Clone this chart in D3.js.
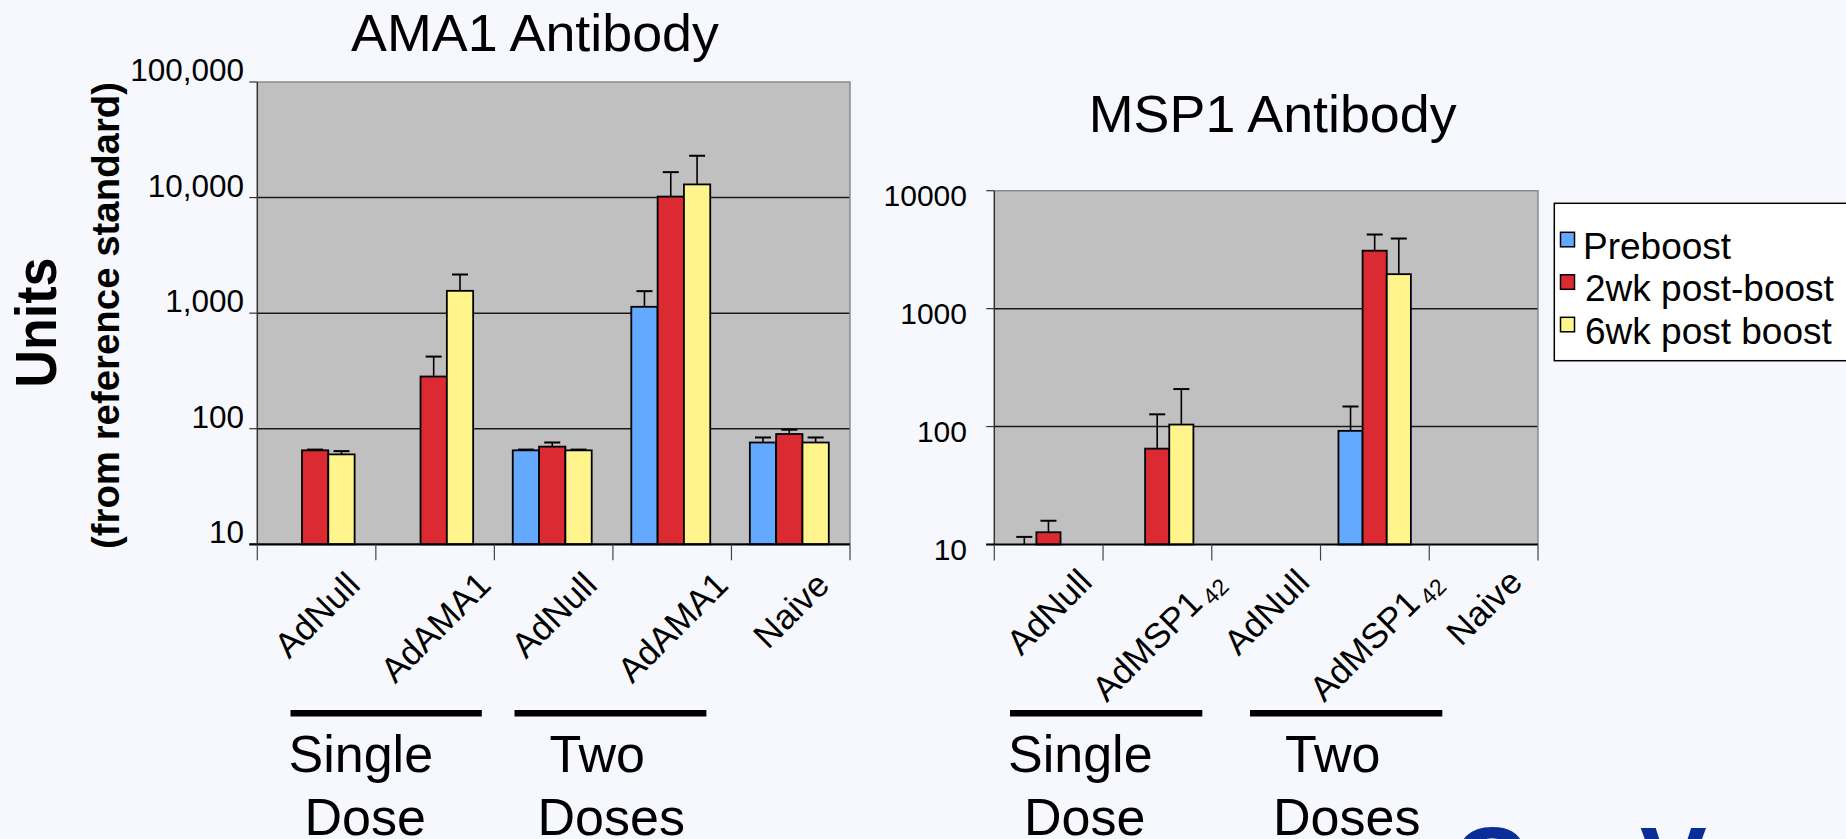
<!DOCTYPE html>
<html><head><meta charset="utf-8">
<script src="https://cdn.jsdelivr.net/npm/d3@7"></script>
<style>
html,body{margin:0;padding:0;background:#F6F8FD;}
svg{display:block;font-family:"Liberation Sans",Arial,sans-serif;}
</style></head>
<body>
<svg id="chart" width="1846" height="839"></svg>
<script>
// ---------- DATA ----------
const seriesNames = ["Preboost", "2wk post-boost", "6wk post boost"];
const seriesColors = ["#63A9FF", "#DC2A32", "#FFF58C"];

const amaCategories = ["AdNull", "AdAMA1", "AdNull", "AdAMA1", "Naive"];
const amaPreboost = [null, null, 65, 1135, 76];
const ama2wk      = [65, 283, 70, 10200, 90];
const ama6wk      = [60, 1560, 65, 13000, 76];
const amaPreboostErr = [null, null, 1, 415, 8];
const ama2wkErr      = [1, 138, 6, 6400, 8];
const ama6wkErr      = [4, 600, 1, 10000, 8];
const amaTicks = [10, 100, 1000, 10000, 100000];

const mspCategories = ["AdNull", "AdMSP1", "AdNull", "AdMSP1", "Naive"];
const mspSubscripts = ["", "42", "", "42", ""];
const mspPreboost = [10, null, null, 92, null];
const msp2wk      = [12.7, 65, null, 3100, null];
const msp6wk      = [null, 104, null, 1960, null];
const mspPreboostErr = [1.6, null, null, 56, null];
const msp2wkErr      = [3.2, 62, null, 1150, null];
const msp6wkErr      = [null, 104, null, 1970, null];
const mspTicks = [10, 100, 1000, 10000];

const groupLabels = [["Single", "Dose"], ["Two", "Doses"]];
// ---------------------------

const svg = d3.select("#chart");

function drawPanel(p) {
  const g = svg.append("g");
  const x = d3.scaleBand().domain(d3.range(p.categories.length)).range([p.x0, p.x1]);
  const y = d3.scaleLog().domain([p.ticks[0], p.ticks[p.ticks.length - 1]]).range([p.yb, p.yt]);
  const bw = x.bandwidth();
  const barW = bw * 0.222;
  const off = bw * p.barOffset;

  g.append("rect").attr("x", p.x0).attr("y", p.yt)
    .attr("width", p.x1 - p.x0).attr("height", p.yb - p.yt).attr("fill", "#C0C0C0");

  g.selectAll(".grid").data(p.ticks.slice(1, -1)).join("line")
    .attr("x1", p.x0).attr("x2", p.x1)
    .attr("y1", d => y(d)).attr("y2", d => y(d))
    .attr("stroke", "#1a1a1a").attr("stroke-width", 1.5);

  g.append("path")
    .attr("d", `M${p.x0},${p.yt}H${p.x1}V${p.yb}`)
    .attr("fill", "none").attr("stroke", "#8a8a8a").attr("stroke-width", 1.5);

  g.append("line").attr("x1", p.x0).attr("x2", p.x0).attr("y1", p.yt).attr("y2", p.yb)
    .attr("stroke", "#333").attr("stroke-width", 1.5);
  g.selectAll(".ytick").data(p.ticks).join("line")
    .attr("x1", p.x0 - 8).attr("x2", p.x0)
    .attr("y1", d => y(d)).attr("y2", d => y(d))
    .attr("stroke", "#333").attr("stroke-width", 1.2);
  g.selectAll(".ylab").data(p.ticks).join("text")
    .attr("x", p.labelX).attr("y", d => y(d) + p.labelDy)
    .attr("text-anchor", "end").attr("font-size", p.labelSize).attr("fill", "#000")
    .text(d => p.tickFormat(d));

  p.series.forEach((vals, si) => {
    vals.forEach((v, ci) => {
      if (v == null) return;
      const bx = x(ci) + off + si * barW;
      g.append("rect").attr("x", bx).attr("y", y(v))
        .attr("width", barW).attr("height", Math.max(0, y(p.ticks[0]) - y(v)))
        .attr("fill", seriesColors[si]).attr("stroke", "#000").attr("stroke-width", 1.8);
      const e = p.errors[si][ci];
      if (e != null) {
        const cx = bx + barW / 2;
        const yt = y(v + e);
        g.append("line").attr("x1", cx).attr("x2", cx).attr("y1", y(v)).attr("y2", yt)
          .attr("stroke", "#000").attr("stroke-width", 1.6);
        g.append("line").attr("x1", cx - 8).attr("x2", cx + 8).attr("y1", yt).attr("y2", yt)
          .attr("stroke", "#000").attr("stroke-width", 2);
      }
    });
  });

  g.append("line").attr("x1", p.x0 - 8).attr("x2", p.x1).attr("y1", p.yb).attr("y2", p.yb)
    .attr("stroke", "#000").attr("stroke-width", 2.2);
  const bounds = d3.range(p.categories.length + 1).map(i => p.x0 + i * bw);
  g.selectAll(".xtick").data(bounds).join("line")
    .attr("x1", d => d).attr("x2", d => d).attr("y1", p.yb).attr("y2", p.yb + 16)
    .attr("stroke", "#444").attr("stroke-width", 1.2);

  const fs = 35;
  p.categories.forEach((c, i) => {
    const cx = x(i) + bw / 2;
    const t = g.append("text").attr("font-size", fs).attr("text-anchor", "middle")
      .attr("dy", "0.36em").attr("fill", "#000");
    t.append("tspan").text(c);
    if (p.subs && p.subs[i]) {
      t.append("tspan").text("\u00a0").attr("font-size", 18);
      t.append("tspan").text(p.subs[i]).attr("font-size", 23).attr("baseline-shift", "-25%");
    }
    const L = t.node().getComputedTextLength();
    const cy = p.labelTop + (L + 0.73 * fs) * 0.7071 / 2;
    t.attr("transform", `translate(${cx},${cy}) rotate(-45)`);
  });

  p.groups.forEach((gr, gi) => {
    g.append("rect").attr("x", gr[0]).attr("y", 710).attr("width", gr[1] - gr[0]).attr("height", 6.5)
      .attr("fill", "#000");
    const lab = groupLabels[gi];
    const offs = gi === 0 ? [-2, 14] : [35, 23];
    g.append("text").attr("x", gr[0] + offs[0]).attr("y", 771.5).attr("font-size", 52).text(lab[0]);
    g.append("text").attr("x", gr[0] + offs[1]).attr("y", 835).attr("font-size", 52).text(lab[1]);
  });

  g.append("text").attr("transform", `translate(${p.titleX},${p.titleY}) scale(1.055,1)`)
    .attr("text-anchor", "middle").attr("font-size", 51).text(p.title);
}

drawPanel({
  title: "AMA1 Antibody", titleX: 535, titleY: 50.5,
  categories: amaCategories,
  series: [amaPreboost, ama2wk, ama6wk],
  errors: [amaPreboostErr, ama2wkErr, ama6wkErr],
  ticks: amaTicks, tickFormat: d3.format(","),
  x0: 257.3, x1: 850, yt: 82, yb: 544.3, barOffset: 0.155,
  labelX: 244, labelDy: -1, labelSize: 31.5, labelTop: 569,
  groups: [[290.5, 481.8], [514.5, 706.4]]
});

drawPanel({
  title: "MSP1 Antibody", titleX: 1272.7, titleY: 131.5,
  categories: mspCategories, subs: mspSubscripts,
  series: [mspPreboost, msp2wk, msp6wk],
  errors: [mspPreboostErr, msp2wkErr, msp6wkErr],
  ticks: mspTicks, tickFormat: d3.format("d"),
  x0: 994.3, x1: 1538, yt: 190.7, yb: 544.5, barOffset: 0.165,
  labelX: 967, labelDy: 15, labelSize: 30, labelTop: 566,
  groups: [[1010, 1202.3], [1250, 1442.3]]
});

svg.append("text").attr("transform", "translate(56,322.5) scale(1.1,1) rotate(-90)")
  .attr("text-anchor", "middle").attr("font-size", 52).attr("font-weight", "bold").text("Units");
svg.append("text").attr("transform", "translate(118.5,315.5) rotate(-90)")
  .attr("text-anchor", "middle").attr("font-size", 38.4).attr("font-weight", "bold")
  .text("(from reference standard)");

const lg = svg.append("g");
lg.append("rect").attr("x", 1554.3).attr("y", 203.3).attr("width", 320).attr("height", 157.4)
  .attr("fill", "#fff").attr("stroke", "#000").attr("stroke-width", 1.5);
seriesNames.forEach((n, i) => {
  const yy = 232.3 + i * 42.5;
  lg.append("rect").attr("x", 1560.5).attr("y", yy).attr("width", 14).attr("height", 14.5)
    .attr("fill", seriesColors[i]).attr("stroke", "#000").attr("stroke-width", 1.5);
  lg.append("text").attr("x", i === 0 ? 1583 : 1585).attr("y", 258.5 + i * 42.5)
    .attr("font-size", 37).text(n);
});

// partially visible logo at bottom right
const logo = svg.append("text").attr("y", 897).attr("font-weight", "bold").attr("fill", "#0B2D97");
logo.append("tspan").attr("x", 1453).attr("font-size", 100).text("Gen");
logo.append("tspan").attr("x", 1640).attr("font-size", 100).text("Vec");
</script>
</body></html>
